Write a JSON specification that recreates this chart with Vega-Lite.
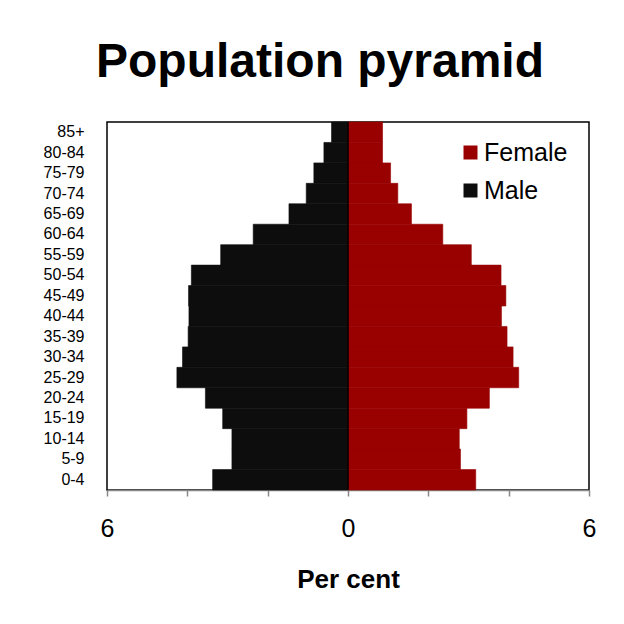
{
  "$schema": "https://vega.github.io/schema/vega-lite/v6.json",
  "autosize": "none",
  "width": 482,
  "height": 368,
  "padding": {"left": 107, "top": 122, "right": 35, "bottom": 134},
  "background": "white",
  "title": {"text": "Population pyramid", "font": "Liberation Sans", "fontSize": 48, "fontWeight": "bold", "color": "#000", "anchor": "middle", "baseline": "alphabetic", "offset": 44, "dy": 48, "dx": -28},
  "data": {"values": [
    {"age": "85+", "sex": "Male", "pct": -0.41}, {"age": "85+", "sex": "Female", "pct": 0.86},
    {"age": "80-84", "sex": "Male", "pct": -0.60}, {"age": "80-84", "sex": "Female", "pct": 0.86},
    {"age": "75-79", "sex": "Male", "pct": -0.85}, {"age": "75-79", "sex": "Female", "pct": 1.06},
    {"age": "70-74", "sex": "Male", "pct": -1.04}, {"age": "70-74", "sex": "Female", "pct": 1.24},
    {"age": "65-69", "sex": "Male", "pct": -1.47}, {"age": "65-69", "sex": "Female", "pct": 1.58},
    {"age": "60-64", "sex": "Male", "pct": -2.36}, {"age": "60-64", "sex": "Female", "pct": 2.36},
    {"age": "55-59", "sex": "Male", "pct": -3.17}, {"age": "55-59", "sex": "Female", "pct": 3.07},
    {"age": "50-54", "sex": "Male", "pct": -3.90}, {"age": "50-54", "sex": "Female", "pct": 3.81},
    {"age": "45-49", "sex": "Male", "pct": -3.97}, {"age": "45-49", "sex": "Female", "pct": 3.93},
    {"age": "40-44", "sex": "Male", "pct": -3.96}, {"age": "40-44", "sex": "Female", "pct": 3.82},
    {"age": "35-39", "sex": "Male", "pct": -3.98}, {"age": "35-39", "sex": "Female", "pct": 3.96},
    {"age": "30-34", "sex": "Male", "pct": -4.12}, {"age": "30-34", "sex": "Female", "pct": 4.11},
    {"age": "25-29", "sex": "Male", "pct": -4.26}, {"age": "25-29", "sex": "Female", "pct": 4.25},
    {"age": "20-24", "sex": "Male", "pct": -3.55}, {"age": "20-24", "sex": "Female", "pct": 3.52},
    {"age": "15-19", "sex": "Male", "pct": -3.12}, {"age": "15-19", "sex": "Female", "pct": 2.96},
    {"age": "10-14", "sex": "Male", "pct": -2.89}, {"age": "10-14", "sex": "Female", "pct": 2.77},
    {"age": "5-9", "sex": "Male", "pct": -2.89}, {"age": "5-9", "sex": "Female", "pct": 2.80},
    {"age": "0-4", "sex": "Male", "pct": -3.37}, {"age": "0-4", "sex": "Female", "pct": 3.18}
  ]},
  "layer": [
    {
      "mark": {"type": "bar", "strokeWidth": 0.6},
      "encoding": {
        "y": {"field": "age", "type": "nominal",
          "sort": ["85+","80-84","75-79","70-74","65-69","60-64","55-59","50-54","45-49","40-44","35-39","30-34","25-29","20-24","15-19","10-14","5-9","0-4"],
          "scale": {"paddingInner": 0, "paddingOuter": 0},
          "axis": {"title": null, "ticks": false, "domain": false, "grid": false, "labelFontSize": 16, "labelColor": "#000", "labelPadding": 23, "labelFont": "Liberation Sans"}},
        "x": {"field": "pct", "type": "quantitative", "stack": null,
          "scale": {"domain": [-6, 6], "nice": false},
          "axis": {"values": [-6, -4, -2, 0, 2, 4, 6], "labelExpr": "datum.value % 6 === 0 ? format(abs(datum.value), 'd') : ''",
            "labelFlush": false, "labelOverlap": false, "labelFontSize": 25, "labelColor": "#000", "labelFont": "Liberation Sans", "labelPadding": 20,
            "tickSize": 6, "tickColor": "#888", "tickWidth": 1.5, "domainColor": "#888", "domainWidth": 1.5, "grid": false,
            "title": "Per cent", "titleFont": "Liberation Sans", "titleFontSize": 26, "titleFontWeight": "bold", "titleColor": "#000", "titlePadding": 25}},
        "color": {"field": "sex", "type": "nominal",
          "scale": {"domain": ["Female", "Male"], "range": ["#990000", "#0d0d0d"]},
          "legend": {"title": null, "orient": "none", "legendX": 351, "legendY": 18, "symbolType": "square", "symbolSize": 196, "symbolStrokeWidth": 0, "symbolOpacity": 1,
            "labelFontSize": 25, "labelColor": "#000", "labelFont": "Liberation Sans", "labelOffset": 1, "rowPadding": 12}},
        "stroke": {"field": "sex", "type": "nominal",
          "scale": {"domain": ["Female", "Male"], "range": ["#990000", "#0d0d0d"]},
          "legend": null}
      }
    },
    {
      "data": {"values": [{}]},
      "mark": {"type": "rule", "color": "#000", "strokeWidth": 1.5},
      "encoding": {"x": {"datum": 0}}
    }
  ],
  "config": {"view": {"stroke": "#000", "strokeWidth": 1.5}, "font": "Liberation Sans"}
}
